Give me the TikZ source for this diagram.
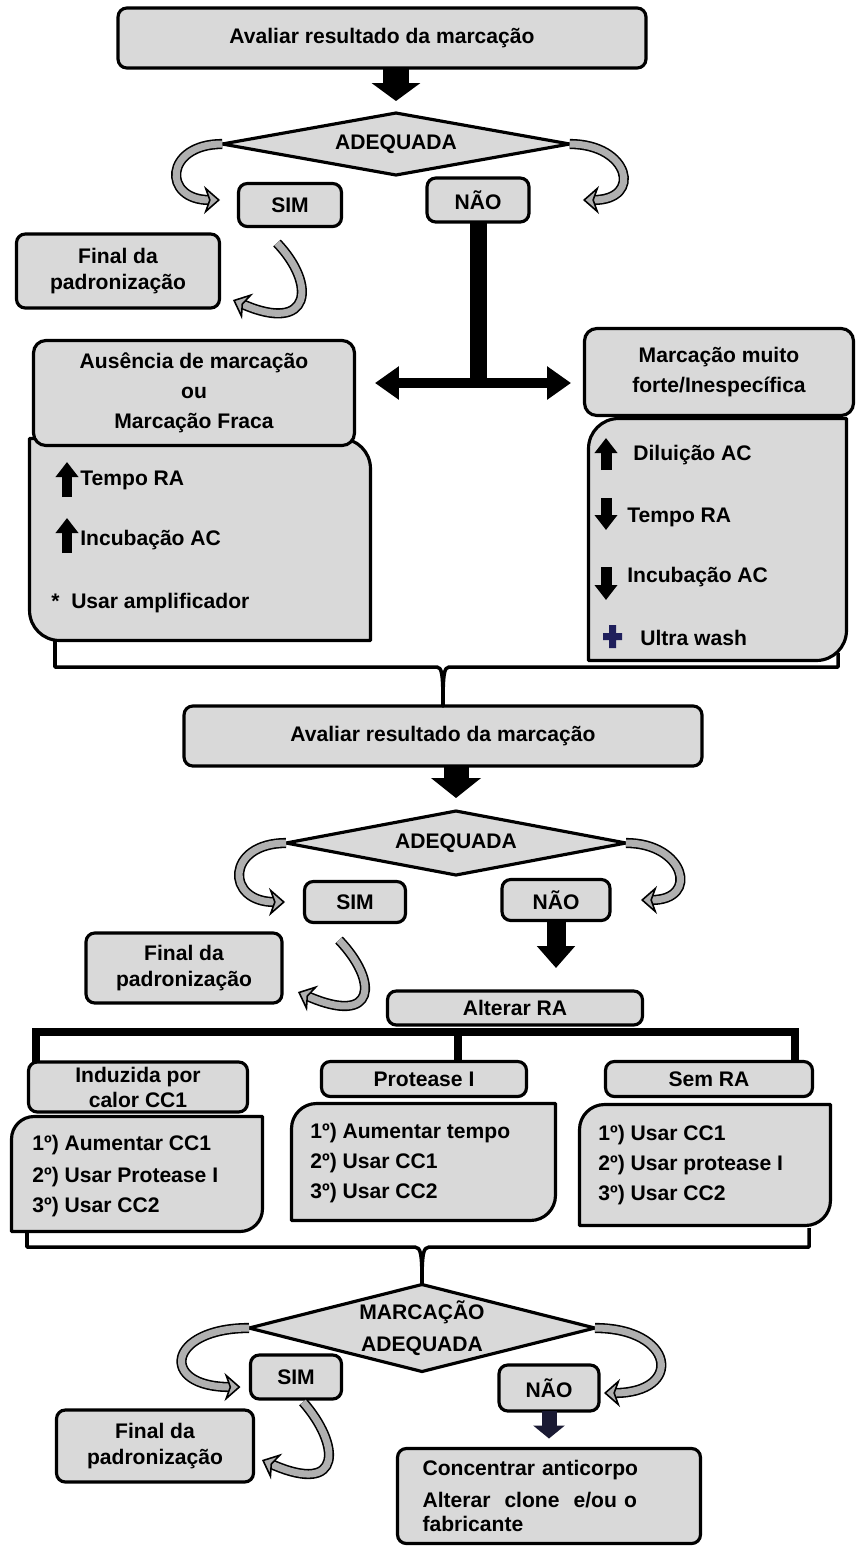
\documentclass[tikz,border=0pt]{standalone}
\usepackage{fontspec}
\setmainfont{Liberation Sans}
\usetikzlibrary{shapes.geometric, arrows.meta, calc}
\definecolor{boxgray}{HTML}{D9D9D9}
\definecolor{curvegray}{HTML}{B0B0B0}
\definecolor{plusnavy}{HTML}{1F1F5C}
\definecolor{arrownavy}{HTML}{1A1A33}
\tikzset{
    box/.style={rectangle, draw, line width=1.8pt, fill=boxgray, rounded corners=5pt, align=center, inner sep=2pt, outer sep=0pt, font=\fontsize{12}{15}\selectfont\bfseries},
    decision/.style={diamond, draw, line width=1.8pt, fill=boxgray, align=center, aspect=4, inner sep=0pt, outer sep=0pt, font=\fontsize{12}{18}\selectfont\bfseries},
    bodyarea/.style={rectangle, inner sep=0pt, outer sep=0pt},
    bodyline/.style={draw, line width=1.8pt, fill=boxgray, line join=round},
    listitem/.style={anchor=west, inner sep=0pt, font=\fontsize{12}{14}\selectfont\bfseries},
    fatarrow/.style={draw, line width=0.52cm, -{Triangle[length=0.36cm, width=0.96cm]}},
    bendarrow/.style={draw, line width=0.9pt, double=curvegray, double distance=4pt, -{Stealth[length=0.32cm, width=0.56cm, inset=0.1cm, fill=curvegray, line width=0.9pt]}},
    iconarrow/.style={draw, line width=0.22cm, -{Triangle[length=0.3cm, width=0.44cm]}},
    tbar/.style={draw, line width=0.34cm},
    twoway/.style={draw, line width=0.2cm, {Triangle[length=0.48cm, width=0.64cm]}-{Triangle[length=0.48cm, width=0.64cm]}},
    rabar/.style={draw, line width=0.16cm, line join=miter},
    brace/.style={draw, line width=2pt, line join=round},
}
% body outlines with two rounded corners
\newcommand{\bodyTLBR}[2]{\path[bodyline] (#1.north east) -- ([yshift=#2]#1.south east) arc[start angle=0, end angle=-90, radius=#2] -- (#1.south west) -- ([yshift=-#2]#1.north west) arc[start angle=180, end angle=90, radius=#2] -- cycle;}
\newcommand{\bodyTRBL}[2]{\path[bodyline] (#1.north west) -- ([xshift=-#2]#1.north east) arc[start angle=90, end angle=0, radius=#2] -- (#1.south east) -- ([xshift=#2]#1.south west) arc[start angle=270, end angle=180, radius=#2] -- cycle;}

\begin{document}
\begin{tikzpicture}[x=0.02cm, y=-0.02cm]
    \useasboundingbox (0,0) rectangle (857,1546);

    % First evaluation
    \node[box, minimum width=10.56cm, minimum height=1.2cm] (eval1) at (382,38) {Avaliar resultado da marcação};
    \node[decision, minimum width=6.95cm, minimum height=1.24cm] (ad1) at (396,144) {ADEQUADA};
    \node[box, minimum width=2.06cm, minimum height=0.86cm] (sim1) at (290,205) {SIM};
    \node[box, minimum width=2.04cm, minimum height=0.88cm] (nao1) at (478,200) {NÃO};
    \node[box, minimum width=4.06cm, minimum height=1.48cm] (fim1) at (118,271) {Final da\\padronização};

    \draw[fatarrow] (ad1.north |- eval1.south) -- ([yshift=0.24cm]ad1.north);
    \draw[bendarrow] (ad1.west) .. controls +(-58,0) and +(-58,0) .. ([xshift=-0.37cm, yshift=0.1cm]sim1.west);
    \draw[bendarrow] (ad1.east) .. controls +(60,0) and +(60,0) .. ([xshift=1.08cm]nao1.east);
    \draw[bendarrow] ([xshift=-0.26cm, yshift=-0.33cm]sim1.south) .. controls +(40,42) and +(78,34) .. ([xshift=0.27cm, yshift=-0.58cm]fim1.east);

    % Two outcomes
    \node[bodyarea, minimum width=6.82cm, minimum height=4.04cm] (lbody) at (200,539.5) {};
    \node[bodyarea, minimum width=5.16cm, minimum height=4.84cm] (rbody) at (717.5,539.5) {};
    \bodyTRBL{lbody}{0.6cm}
    \bodyTLBR{rbody}{0.6cm}
    \node[box, rounded corners=7pt, minimum width=6.42cm, minimum height=2.1cm, font=\fontsize{12}{17}\selectfont\bfseries] (ausente) at (194,393) {Ausência de marcação\\ou\\Marcação Fraca};
    \node[box, rounded corners=7pt, minimum width=5.38cm, minimum height=1.74cm, font=\fontsize{12}{17}\selectfont\bfseries] (forte) at (719,372) {Marcação muito\\forte/Inespecífica};

    \coordinate (tee) at (478,383);
    \draw[tbar] (nao1.south) -- (tee);
    \draw[twoway, shorten <=0.41cm, shorten >=0.27cm] (tee -| ausente.east) -- (tee -| forte.west);

    \draw[iconarrow] (67,497) -- (67,462);
    \node[listitem] (l_tempo) at (80,480) {Tempo RA};
    \draw[iconarrow] (67,553) -- (67,518);
    \node[listitem] (l_incub) at (80,540) {Incubação AC};
    \node[listitem] (l_ampl) at (51,603) {*\ \ Usar amplificador};

    \draw[iconarrow] (606,470) -- (606,438);
    \node[listitem] (r_dil) at (633,455) {Diluição AC};
    \draw[iconarrow] (606,498) -- (606,530);
    \node[listitem] (r_tempo) at (627,517) {Tempo RA};
    \draw[iconarrow] (606,567) -- (606,600);
    \node[listitem] (r_incub) at (627,577) {Incubação AC};
    \fill[plusnavy] (603,633) rectangle (622,640) (609,625) rectangle (616,648);
    \node[listitem] (r_wash) at (640,638) {Ultra wash};

    % Second evaluation
    \node[box, minimum width=10.36cm, minimum height=1.2cm] (eval2) at (443,736) {Avaliar resultado da marcação};
    \node[decision, minimum width=6.8cm, minimum height=1.28cm] (ad2) at (456,843) {ADEQUADA};
    \node[box, minimum width=2.02cm, minimum height=0.82cm] (sim2) at (355,902) {SIM};
    \node[box, minimum width=2.16cm, minimum height=0.82cm] (nao2) at (556,900) {NÃO};
    \node[box, minimum width=3.92cm, minimum height=1.4cm] (fim2) at (184,968) {Final da\\padronização};
    \node[box, minimum width=5.1cm, minimum height=0.68cm] (alterar) at (515,1008) {Alterar RA};

    \draw[brace] (55,640) -- (55,667) -- (437,667) .. controls (442,667) and (443,675) .. (eval2.north) .. controls (443,675) and (444,667) .. (449,667) -- (838,667) -- (838,653);

    \draw[fatarrow, line width=0.5cm, -{Triangle[length=0.4cm, width=0.98cm]}] (ad2.north |- eval2.south) -- ([yshift=0.26cm]ad2.north);
    \draw[bendarrow] (ad2.west) .. controls +(-60,0) and +(-60,0) .. ([xshift=-0.39cm]sim2.west);
    \draw[bendarrow] (ad2.east) .. controls +(59,0) and +(59,0) .. ([xshift=0.62cm]nao2.east);
    \draw[bendarrow] ([xshift=-0.32cm, yshift=-0.35cm]sim2.south) .. controls +(40,42) and +(78,34) .. ([xshift=0.32cm, yshift=-0.48cm]fim2.east);
    \draw[fatarrow, line width=0.38cm, -{Triangle[length=0.44cm, width=0.74cm]}, shorten >=0.46cm] (nao2.south) -- (nao2.south |- alterar.north);

    % Antigen retrieval options
    \node[bodyarea, minimum width=5.02cm, minimum height=2.3cm] (ind_body) at (137,1174) {};
    \node[bodyarea, minimum width=5.28cm, minimum height=2.34cm] (prot_body) at (423.5,1162) {};
    \node[bodyarea, minimum width=5.02cm, minimum height=2.42cm] (sem_body) at (705,1165) {};
    \bodyTLBR{ind_body}{0.45cm}
    \bodyTLBR{prot_body}{0.5cm}
    \bodyTLBR{sem_body}{0.5cm}
    \node[box, minimum width=4.38cm, minimum height=1cm, font=\fontsize{12}{14.2}\selectfont\bfseries] (ind_head) at (138,1087) {Induzida por\\calor CC1};
    \node[box, minimum width=4.1cm, minimum height=0.7cm] (prot_head) at (424,1079) {Protease I};
    \node[box, minimum width=4.14cm, minimum height=0.7cm] (sem_head) at (709,1079) {Sem RA};

    \coordinate (barL) at (36,1032);
    \coordinate (barM) at (458,1032);
    \coordinate (barR) at (795,1032);
    \draw[rabar] (ind_head.north -| barL) -- (barL) -- (barR) -- (sem_head.north -| barR);
    \draw[rabar] (barM) -- (barM |- prot_head.north);

    \node[listitem] (ind_a) at (32,1145) {1º) Aumentar CC1};
    \node[listitem] (ind_b) at (32,1177) {2º) Usar Protease I};
    \node[listitem] (ind_c) at (32,1207) {3º) Usar CC2};
    \node[listitem] (prot_a) at (310,1133) {1º) Aumentar tempo};
    \node[listitem] (prot_b) at (310,1163) {2º) Usar CC1};
    \node[listitem] (prot_c) at (310,1193) {3º) Usar CC2};
    \node[listitem] (sem_a) at (598,1135) {1º) Usar CC1};
    \node[listitem] (sem_b) at (598,1165) {2º) Usar protease I};
    \node[listitem] (sem_c) at (598,1195) {3º) Usar CC2};

    % Final evaluation
    \node[decision, minimum width=6.92cm, minimum height=1.74cm] (ad3) at (422,1328) {MARCAÇÃO\\ADEQUADA};
    \node[box, minimum width=1.82cm, minimum height=0.88cm] (sim3) at (296,1377) {SIM};
    \node[box, minimum width=2cm, minimum height=0.92cm] (nao3) at (549,1388) {NÃO};
    \node[box, minimum width=3.94cm, minimum height=1.44cm] (fim3) at (155,1446) {Final da\\padronização};
    \node[box, align=left, text width=5.06cm, inner xsep=0.5cm, minimum height=1.9cm, font=\fontsize{12}{14}\selectfont\bfseries] (conc) at (549,1496) {Concentrar anticorpo\\[4pt]Alterar\ \ clone\ \ e/ou o\\fabricante};

    \draw[brace] (27,1230) -- (27,1247) -- (415,1247) .. controls (421,1247) and (422,1255) .. (ad3.north) .. controls (422,1255) and (423,1247) .. (429,1247) -- (809,1247) -- (809,1228);

    \draw[bendarrow] (ad3.west) .. controls +(-82,0) and +(-82,0) .. ([xshift=-0.2cm, yshift=-0.2cm]sim3.west);
    \draw[bendarrow] (ad3.east) .. controls +(80,0) and +(80,0) .. ([xshift=0.1cm, yshift=-0.1cm]nao3.east);
    \draw[bendarrow] ([xshift=0.14cm, yshift=-0.06cm]sim3.south) .. controls +(37,42) and +(82,36) .. ([xshift=0.17cm, yshift=-0.28cm]fim3.east);
    \draw[fatarrow, draw=arrownavy, line width=0.3cm, -{Triangle[length=0.26cm, width=0.62cm]}, shorten >=0.2cm] (nao3.south) -- (nao3.south |- conc.north);

\end{tikzpicture}
\end{document}
